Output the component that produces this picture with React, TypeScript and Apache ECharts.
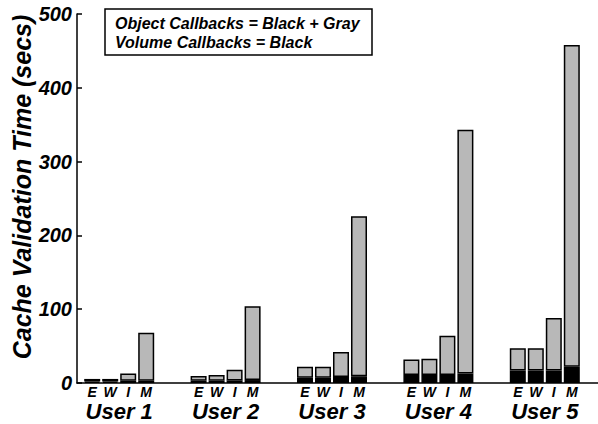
import React, { useEffect, useRef } from "react";
import * as echarts from "echarts";

const categories = ["User 1", "User 2", "User 3", "User 4", "User 5"];
const barLetters = ["E", "W", "I", "M"];
const yTicks = [0, 100, 200, 300, 400, 500];

// Volume callbacks (black part)
const blackE = [2, 3, 7, 11, 17];
const blackW = [2, 3, 7, 11, 17];
const blackI = [3, 3.5, 8, 11, 17];
const blackM = [3, 4, 9, 13, 22];
// Remaining object callbacks (gray part, stacked on black)
const grayE = [3.5, 6.5, 15, 21, 30];
const grayW = [3.5, 8, 15, 22, 30];
const grayI = [10, 14.5, 34, 53, 71];
const grayM = [65, 100, 217, 330, 436];

const blacks = [blackE, blackW, blackI, blackM];
const grays = [grayE, grayW, grayI, grayM];

const FONT = '"Liberation Sans", Arial, sans-serif';

export default function App() {
  const ref = useRef<HTMLDivElement>(null);
  useEffect(() => {
    document.body.style.margin = "0";
    if (!ref.current) return;
    const chart = echarts.init(ref.current, null, { renderer: "svg" });
    const series: any[] = [];
    barLetters.forEach((letter, i) => {
      series.push({
        type: "bar",
        name: letter + " black",
        stack: letter,
        xAxisIndex: 0,
        yAxisIndex: 0,
        barWidth: 16,
        barGap: "12.5%",
        data: blacks[i],
        itemStyle: { color: "#000", borderColor: "#000", borderWidth: 1.5 },
        label: {
          show: true,
          position: "bottom",
          distance: 2,
          formatter: letter,
          color: "#000",
          fontFamily: FONT,
          fontWeight: "bold",
          fontStyle: "italic",
          fontSize: 14,
          lineHeight: 14,
        },
        silent: true,
      });
      series.push({
        type: "bar",
        name: letter + " gray",
        stack: letter,
        xAxisIndex: 0,
        yAxisIndex: 0,
        barWidth: 16,
        barGap: "12.5%",
        data: grays[i],
        itemStyle: { color: "#b8b8b8", borderColor: "#000", borderWidth: 1.5 },
        silent: true,
      });
    });
    chart.setOption({
      animation: false,
      grid: [
        { left: 66, width: 543, top: 14, bottom: 41 },
        { left: 77, right: 0, top: 14, bottom: 41 },
      ],
      xAxis: [
        {
          type: "category",
          gridIndex: 0,
          data: categories,
          axisLine: { show: false },
          axisTick: { show: false },
          axisLabel: {
            margin: 17,
            color: "#000",
            fontFamily: FONT,
            fontWeight: "bold",
            fontStyle: "italic",
            fontSize: 22,
            lineHeight: 22,
          },
        },
        {
          type: "value",
          gridIndex: 1,
          min: 0,
          max: 1,
          axisLine: { show: true, lineStyle: { color: "#000", width: 1.5 } },
          axisTick: { show: false },
          axisLabel: { show: false },
          splitLine: { show: false },
        },
      ],
      yAxis: [
        {
          type: "value",
          gridIndex: 0,
          min: 0,
          max: 500,
          show: false,
        },
        {
          type: "value",
          gridIndex: 1,
          min: yTicks[0],
          max: yTicks[yTicks.length - 1],
          interval: 100,
          axisLine: { show: true, lineStyle: { color: "#000", width: 1.5 } },
          axisTick: { show: true, inside: true, length: 5, lineStyle: { color: "#000", width: 1.5 } },
          axisLabel: {
            margin: 5,
            color: "#000",
            fontFamily: FONT,
            fontWeight: "bold",
            fontStyle: "italic",
            fontSize: 20,
          },
          splitLine: { show: false },
        },
      ],
      graphic: [
        {
          type: "text",
          x: 22,
          y: 187,
          rotation: Math.PI / 2,
          style: {
            text: "Cache Validation Time (secs)",
            font: `italic bold 25px ${FONT}`,
            fill: "#000",
            align: "center",
            verticalAlign: "middle",
          },
        },
        {
          type: "rect",
          shape: { x: 105, y: 9, width: 267, height: 46 },
          style: { fill: "#fff", stroke: "#000", lineWidth: 1.5 },
        },
        {
          type: "text",
          x: 115,
          y: 23,
          style: {
            text: "Object Callbacks = Black + Gray",
            font: `italic bold 16px ${FONT}`,
            fill: "#000",
            verticalAlign: "middle",
          },
        },
        {
          type: "text",
          x: 115,
          y: 42,
          style: {
            text: "Volume Callbacks = Black",
            font: `italic bold 16px ${FONT}`,
            fill: "#000",
            verticalAlign: "middle",
          },
        },
      ],
      series,
    });
    return () => chart.dispose();
  }, []);
  return <div ref={ref} style={{ width: 598, height: 424 }} />;
}
